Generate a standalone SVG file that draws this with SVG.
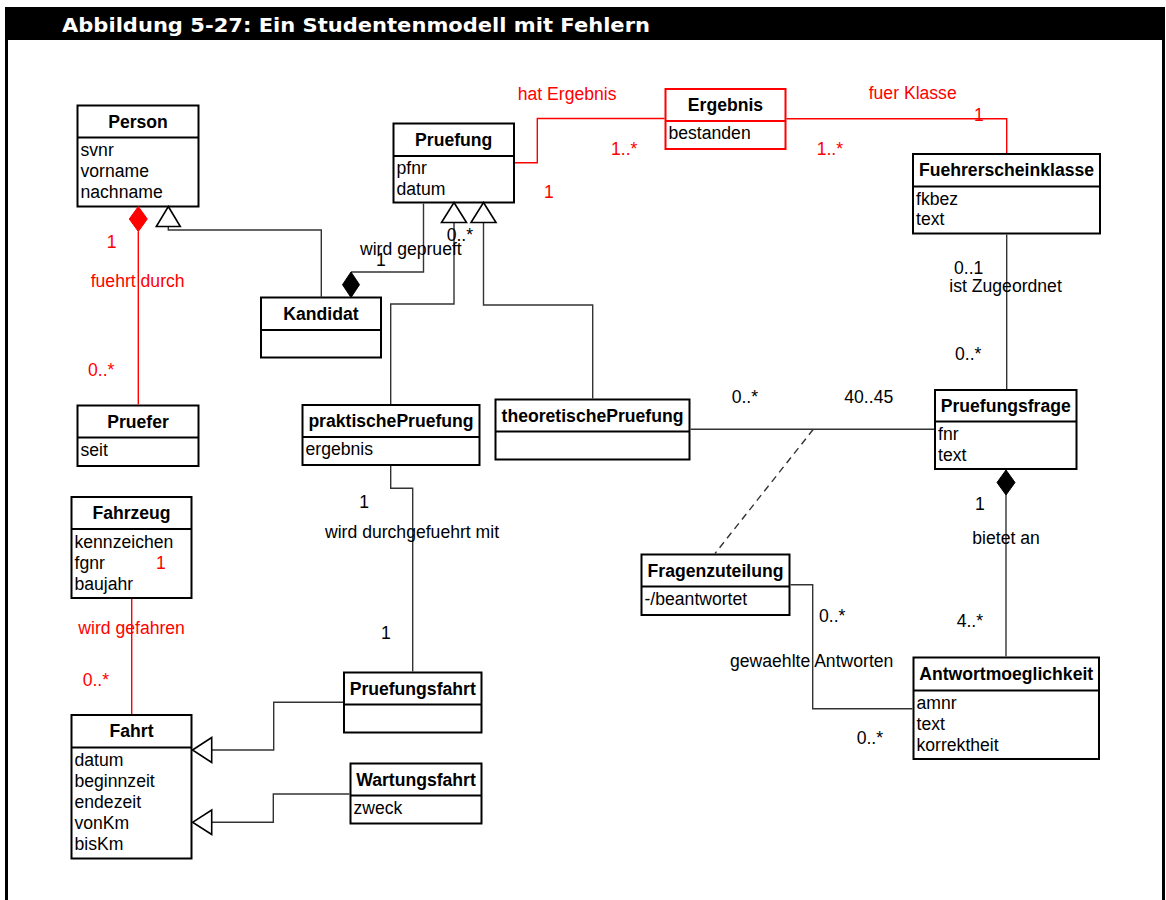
<svg xmlns="http://www.w3.org/2000/svg" width="1166" height="900" viewBox="0 0 1166 900">
  <style>
    .box { fill: #fff; stroke: #000; stroke-width: 2; }
    .box.red { stroke: #f00; }
    .div { stroke: #000; stroke-width: 2; }
    .div.red { stroke: #f00; }
    .title { font-family: "Liberation Sans", Arial, sans-serif; font-weight: bold; font-size: 17.6px; fill: #000; text-anchor: middle; }
    .attr { font-family: "Liberation Sans", Arial, sans-serif; font-size: 17.6px; fill: #000; }
    .lbl { font-family: "Liberation Sans", Arial, sans-serif; font-size: 17.6px; fill: #000; }
    .lbl.red { fill: #f00; }
    .edge { fill: none; stroke: #333; stroke-width: 1.4; }
    .edge.red { stroke: #f00; }
    .dash { stroke-dasharray: 7 5; }
    .gen { fill: #fff; stroke: #000; stroke-width: 1.6; }
    .comp { fill: #000; stroke: #000; stroke-width: 1; }
    .comp.red { fill: #f00; stroke: #f00; }
  </style>

  <rect x="0" y="0" width="1166" height="900" fill="#fff"/>

  <!-- frame -->
  <g id="frame">
    <rect x="5" y="7" width="1160" height="33" fill="#000"/>
    <rect x="5" y="7" width="3" height="893" fill="#000"/>
    <rect x="1162" y="7" width="3" height="893" fill="#000"/>
    <text x="62" y="32" font-family="DejaVu Sans, sans-serif" font-weight="bold" font-size="20" fill="#fff" textLength="588" lengthAdjust="spacingAndGlyphs">Abbildung 5-27: Ein Studentenmodell mit Fehlern</text>
  </g>

  <!-- classes -->
  <g id="Person">
    <rect class="box" x="77.5" y="105.5" width="121" height="101"/>
    <line class="div" x1="77.5" y1="137.5" x2="198.5" y2="137.5"/>
    <text class="title" x="138" y="127.5">Person</text>
    <text class="attr" x="80.5" y="155.5">svnr</text>
    <text class="attr" x="80.5" y="176.5">vorname</text>
    <text class="attr" x="80.5" y="197.5">nachname</text>
  </g>

  <g id="Pruefung">
    <rect class="box" x="393.5" y="123.5" width="120.5" height="79"/>
    <line class="div" x1="393.5" y1="156" x2="514" y2="156"/>
    <text class="title" x="453.7" y="145.5">Pruefung</text>
    <text class="attr" x="396.5" y="174">pfnr</text>
    <text class="attr" x="396.5" y="194.5">datum</text>
  </g>

  <g id="Ergebnis">
    <rect class="box red" x="665.5" y="89" width="120" height="60"/>
    <line class="div red" x1="665.5" y1="121" x2="785.5" y2="121"/>
    <text class="title" x="725.5" y="111">Ergebnis</text>
    <text class="attr" x="668.5" y="139">bestanden</text>
  </g>

  <g id="Fuehrerscheinklasse">
    <rect class="box" x="913" y="154" width="187" height="79.5"/>
    <line class="div" x1="913" y1="186.5" x2="1100" y2="186.5"/>
    <text class="title" x="1006.5" y="176">Fuehrerscheinklasse</text>
    <text class="attr" x="916" y="204.5">fkbez</text>
    <text class="attr" x="916" y="225">text</text>
  </g>

  <g id="Kandidat">
    <rect class="box" x="261" y="297.5" width="120" height="60"/>
    <line class="div" x1="261" y1="330" x2="381" y2="330"/>
    <text class="title" x="321" y="319.5">Kandidat</text>
  </g>

  <g id="Pruefer">
    <rect class="box" x="77.5" y="405.5" width="121" height="60.5"/>
    <line class="div" x1="77.5" y1="437.5" x2="198.5" y2="437.5"/>
    <text class="title" x="138" y="427.5">Pruefer</text>
    <text class="attr" x="80.5" y="455.5">seit</text>
  </g>

  <g id="praktischePruefung">
    <rect class="box" x="302.5" y="405" width="177" height="60"/>
    <line class="div" x1="302.5" y1="437" x2="479.5" y2="437"/>
    <text class="title" x="391" y="427">praktischePruefung</text>
    <text class="attr" x="305.5" y="455">ergebnis</text>
  </g>

  <g id="theoretischePruefung">
    <rect class="box" x="495.5" y="399.5" width="194" height="60"/>
    <line class="div" x1="495.5" y1="431.5" x2="689.5" y2="431.5"/>
    <text class="title" x="592.5" y="421.5">theoretischePruefung</text>
  </g>

  <g id="Pruefungsfrage">
    <rect class="box" x="935" y="390" width="141.5" height="79"/>
    <line class="div" x1="935" y1="421.5" x2="1076.5" y2="421.5"/>
    <text class="title" x="1005.7" y="412">Pruefungsfrage</text>
    <text class="attr" x="938" y="440">fnr</text>
    <text class="attr" x="938" y="461">text</text>
  </g>

  <g id="Fahrzeug">
    <rect class="box" x="71.5" y="497" width="120" height="101"/>
    <line class="div" x1="71.5" y1="529" x2="191.5" y2="529"/>
    <text class="title" x="131.5" y="519">Fahrzeug</text>
    <text class="attr" x="74.5" y="547.5">kennzeichen</text>
    <text class="attr" x="74.5" y="568.5">fgnr</text>
    <text class="attr" x="74.5" y="589.5">baujahr</text>
  </g>

  <g id="Fragenzuteilung">
    <rect class="box" x="641.5" y="554.5" width="148" height="60.5"/>
    <line class="div" x1="641.5" y1="586.5" x2="789.5" y2="586.5"/>
    <text class="title" x="715.5" y="576.5">Fragenzuteilung</text>
    <text class="attr" x="644.5" y="604.5">-/beantwortet</text>
  </g>

  <g id="Antwortmoeglichkeit">
    <rect class="box" x="913.5" y="657.5" width="185.5" height="101.5"/>
    <line class="div" x1="913.5" y1="690.5" x2="1099" y2="690.5"/>
    <text class="title" x="1006.2" y="680">Antwortmoeglichkeit</text>
    <text class="attr" x="916.5" y="708.5">amnr</text>
    <text class="attr" x="916.5" y="729.5">text</text>
    <text class="attr" x="916.5" y="750.5">korrektheit</text>
  </g>

  <g id="Pruefungsfahrt">
    <rect class="box" x="344" y="672.5" width="137.5" height="60"/>
    <line class="div" x1="344" y1="704.5" x2="481.5" y2="704.5"/>
    <text class="title" x="412.7" y="694.5">Pruefungsfahrt</text>
  </g>

  <g id="Fahrt">
    <rect class="box" x="71.5" y="715" width="120" height="143.5"/>
    <line class="div" x1="71.5" y1="747.5" x2="191.5" y2="747.5"/>
    <text class="title" x="131.5" y="737">Fahrt</text>
    <text class="attr" x="74.5" y="765.5">datum</text>
    <text class="attr" x="74.5" y="786.5">beginnzeit</text>
    <text class="attr" x="74.5" y="807.5">endezeit</text>
    <text class="attr" x="74.5" y="828.5">vonKm</text>
    <text class="attr" x="74.5" y="849.5">bisKm</text>
  </g>

  <g id="Wartungsfahrt">
    <rect class="box" x="350.5" y="763.5" width="131" height="60"/>
    <line class="div" x1="350.5" y1="795.5" x2="481.5" y2="795.5"/>
    <text class="title" x="416" y="785.5">Wartungsfahrt</text>
    <text class="attr" x="353.5" y="813.5">zweck</text>
  </g>

  <!-- connectors (drawn last so their labels sit on top of the class boxes) -->
  <g id="connectors">
    <!-- Kandidat is-a Person -->
    <polyline class="edge" points="321.3,297.5 321.3,230 168.3,230 168.3,226.5"/>
    <polygon class="gen" points="168.3,206.5 180.3,226.5 156.3,226.5"/>
    <!-- Person fuehrt durch Pruefer -->
    <polyline class="edge red" points="138.3,231.5 138.3,404.5"/>
    <polygon class="comp red" points="138.3,206.5 147.3,219 138.3,231.5 129.3,219"/>
    <!-- Kandidat wird geprueft -->
    <polyline class="edge" points="351,272 423.5,272 423.5,203.5"/>
    <polygon class="comp" points="351,272 359.5,284.7 351,297.5 342.5,284.7"/>
    <!-- praktischePruefung / theoretischePruefung is-a Pruefung -->
    <polyline class="edge" points="454,222.5 454,304 390.7,304 390.7,404"/>
    <polygon class="gen" points="454,202.5 466.5,222.5 441.5,222.5"/>
    <polyline class="edge" points="483.5,222.5 483.5,305 592.7,305 592.7,398.5"/>
    <polygon class="gen" points="483.5,202.5 496,222.5 471,222.5"/>
    <!-- hat Ergebnis / fuer Klasse -->
    <polyline class="edge red" points="515,162.7 537.3,162.7 537.3,118.5 664.5,118.5"/>
    <polyline class="edge red" points="786.5,118.7 1006.7,118.7 1006.7,153"/>
    <!-- ist Zugeordnet -->
    <polyline class="edge" points="1006.7,234.5 1006.7,389"/>
    <!-- theoretischePruefung - Pruefungsfrage with association class -->
    <polyline class="edge" points="690.5,429.3 934,429.3"/>
    <line class="edge dash" x1="813.3" y1="429.3" x2="715" y2="553.5"/>
    <!-- bietet an -->
    <polyline class="edge" points="1006,495 1006,656.5"/>
    <polygon class="comp" points="1006,470 1015,482.5 1006,495 997,482.5"/>
    <!-- gewaehlte Antworten -->
    <polyline class="edge" points="790.5,584.7 812.7,584.7 812.7,708.7 912.5,708.7"/>
    <!-- wird durchgefuehrt mit -->
    <polyline class="edge" points="390.7,466 390.7,488.3 412.7,488.3 412.7,671.5"/>
    <!-- wird gefahren -->
    <polyline class="edge red" points="131.7,599 131.7,714"/>
    <!-- Pruefungsfahrt / Wartungsfahrt is-a Fahrt -->
    <polyline class="edge" points="343,702.3 273.7,702.3 273.7,750 211.7,750"/>
    <polygon class="gen" points="192.5,750 211.7,737.5 211.7,762.5"/>
    <polyline class="edge" points="349.5,794 273.3,794 273.3,822.3 211.7,822.3"/>
    <polygon class="gen" points="192.5,822.3 211.7,810 211.7,834.5"/>

    <!-- role names and multiplicities -->
    <text class="lbl red" x="517.7" y="100">hat Ergebnis</text>
    <text class="lbl red" x="611" y="155">1..*</text>
    <text class="lbl red" x="544" y="198">1</text>
    <text class="lbl red" x="868.7" y="99">fuer Klasse</text>
    <text class="lbl red" x="974" y="121">1</text>
    <text class="lbl red" x="816.7" y="155">1..*</text>
    <text class="lbl red" x="106.7" y="248">1</text>
    <text class="lbl red" x="90.7" y="287">fuehrt durch</text>
    <text class="lbl red" x="88" y="376">0..*</text>
    <text class="lbl red" x="156" y="569">1</text>
    <text class="lbl red" x="78.3" y="634">wird gefahren</text>
    <text class="lbl red" x="82.7" y="686">0..*</text>
    <text class="lbl" x="360" y="255">wird geprueft</text>
    <text class="lbl" x="376" y="266">1</text>
    <text class="lbl" x="446.7" y="241">0..*</text>
    <text class="lbl" x="954" y="274">0..1</text>
    <text class="lbl" x="949.3" y="292">ist Zugeordnet</text>
    <text class="lbl" x="955" y="360">0..*</text>
    <text class="lbl" x="731.7" y="403">0..*</text>
    <text class="lbl" x="844.3" y="403">40..45</text>
    <text class="lbl" x="975" y="510">1</text>
    <text class="lbl" x="972.3" y="544">bietet an</text>
    <text class="lbl" x="819" y="622">0..*</text>
    <text class="lbl" x="956.7" y="627">4..*</text>
    <text class="lbl" x="730" y="667">gewaehlte Antworten</text>
    <text class="lbl" x="856.7" y="744">0..*</text>
    <text class="lbl" x="359.3" y="508">1</text>
    <text class="lbl" x="325" y="538">wird durchgefuehrt mit</text>
    <text class="lbl" x="381" y="639">1</text>
  </g>
</svg>
